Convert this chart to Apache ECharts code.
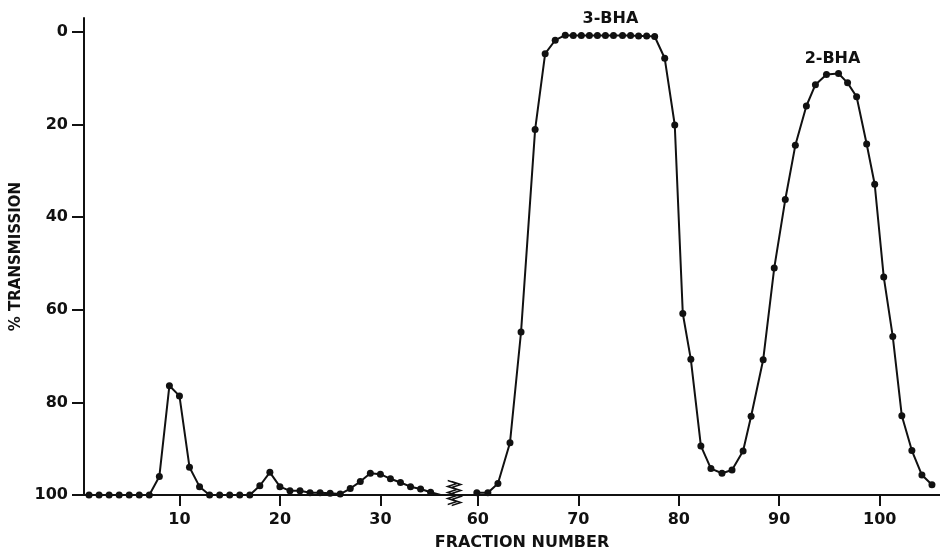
<!DOCTYPE html>
<html>
<head>
<meta charset="utf-8">
<title>Fraction transmission</title>
<script src="https://cdn.jsdelivr.net/npm/echarts@6.0.0/dist/echarts.min.js"></script>
<style>
  html, body { margin: 0; padding: 0; background: #fff; }
  #chart { width: 940px; height: 553px; }
</style>
</head>
<body>
<div id="chart"></div>
<script>
// fractions before the axis break
const preFraction = [1, 2, 3, 4, 5, 6, 7, 8, 9, 10, 11, 12, 13, 14, 15, 16, 17, 18,
  19, 20, 21, 22, 23, 24, 25, 26, 27, 28, 29, 30, 31, 32, 33, 34, 35, 36]
const preTransmission = [100, 100, 100, 100, 100, 100, 100, 96.0, 76.4, 78.6, 94.0, 98.2,
  100, 100, 100, 100, 100, 98.0, 95.1, 98.2, 99.1, 99.1, 99.5, 99.5, 99.6, 99.8,
  98.6, 97.1, 95.3, 95.5, 96.5, 97.3, 98.2, 98.7, 99.4, 100]

// fractions after the break (3-BHA and 2-BHA peaks)
const postFraction = [59.9, 61.0, 62.0, 63.2, 64.3, 65.7, 66.7, 67.7, 68.7, 69.5, 70.3,
  71.1, 71.9, 72.7, 73.5, 74.4, 75.2, 76.0, 76.8, 77.6, 78.6, 79.6, 80.4, 81.2, 82.2,
  83.2, 84.3, 85.3, 86.4, 87.2, 88.4, 89.5, 90.6, 91.6, 92.7, 93.6, 94.7, 95.9, 96.8,
  97.7, 98.7, 99.5, 100.4, 101.3, 102.2, 103.2, 104.2, 105.2]
const postTransmission = [99.5, 99.5, 97.5, 88.7, 64.8, 21.1, 4.7, 1.8, 0.7, 0.8, 0.8,
  0.8, 0.8, 0.8, 0.8, 0.8, 0.8, 0.9, 0.9, 1.0, 5.7, 20.1, 60.8, 70.7, 89.4,
  94.3, 95.3, 94.6, 90.5, 83.0, 70.8, 51.0, 36.2, 24.5, 16.0, 11.4, 9.2, 9.0, 11.0,
  14.0, 24.2, 32.9, 52.9, 65.8, 82.9, 90.4, 95.7, 97.8]

const xTicks = [10, 20, 30, 60, 70, 80, 90, 100]
const yTicks = [0, 20, 40, 60, 80, 100]
const axisBreak = { start: 37, end: 58 }

const peakNames = ['3-BHA', '2-BHA']
const peakFraction = [73.2, 95.3]
const peakTransmission = [0.7, 9.0]

const ink = '#111'
const font = 'DejaVu Sans'
const zigzag = 'path://M0,0 L9,3 L0,6 L9,9 L0,12 L9,15 L0,18 L9,21 L0,24 M4,1 L13,4 L4,7 L13,10 L4,13 L13,16 L4,19 L13,22 L4,25'

function pairs (xs, ys) {
  return xs.map((x, i) => [x, ys[i]])
}

const preData = pairs(preFraction, preTransmission).map((p, i, arr) =>
  i === arr.length - 1 ? { value: p, symbol: 'none' } : p)

const lineStyle = { color: ink, width: 2 }
const itemStyle = { color: ink }
const labelFont = { color: ink, fontWeight: 'bold', fontSize: 16, fontFamily: font }

let myChart = echarts.init(document.getElementById('chart'), null, { renderer: 'canvas' })
myChart.setOption({
  animation: false,
  backgroundColor: '#fff',
  textStyle: { fontFamily: font },
  grid: { left: 84, right: 0, top: 18, bottom: 58, containLabel: false, outerBoundsMode: 'none' },
  xAxis: [
    {
      type: 'value',
      position: 'bottom',
      min: 0.5,
      max: 106,
      breaks: [{ start: axisBreak.start, end: axisBreak.end, gap: 0.7 }],
      breakArea: { show: false },
      name: 'FRACTION NUMBER',
      nameLocation: 'middle',
      nameGap: 40,
      nameTextStyle: Object.assign({ padding: [0, 0, 0, 20] }, labelFont),
      axisLine: { show: false, onZero: false },
      axisTick: { show: true, length: 11, customValues: xTicks, lineStyle: { color: ink, width: 2 } },
      axisLabel: Object.assign({ customValues: xTicks, margin: 17 }, labelFont),
      splitLine: { show: false }
    },
    {
      // unbroken base line drawn under the break marker
      type: 'value',
      position: 'bottom',
      min: 0,
      max: 1,
      axisLine: { show: true, onZero: false, lineStyle: { color: ink, width: 2 } },
      axisTick: { show: false },
      axisLabel: { show: false },
      splitLine: { show: false }
    }
  ],
  yAxis: {
    type: 'value',
    inverse: true,
    min: -3,
    max: 100,
    name: '% TRANSMISSION',
    nameLocation: 'middle',
    nameRotate: 90,
    nameGap: 57,
    nameTextStyle: Object.assign({}, labelFont, { fontSize: 15 }),
    axisLine: { show: true, onZero: false, lineStyle: { color: ink, width: 2 } },
    axisTick: { show: true, length: 12, customValues: yTicks, lineStyle: { color: ink, width: 2 } },
    axisLabel: Object.assign({ customValues: yTicks, margin: 16 }, labelFont),
    splitLine: { show: false }
  },
  series: [
    {
      name: 'before break',
      type: 'line',
      data: preData,
      symbol: 'circle',
      symbolSize: 7,
      lineStyle: lineStyle,
      itemStyle: itemStyle
    },
    {
      name: 'after break',
      type: 'line',
      data: pairs(postFraction, postTransmission),
      symbol: 'circle',
      symbolSize: 7,
      lineStyle: lineStyle,
      itemStyle: itemStyle,
      markPoint: {
        silent: true,
        data: [
          {
            // break marker on the x axis
            coord: [(axisBreak.start + axisBreak.end) / 2, 100],
            symbol: zigzag,
            symbolSize: [13, 25],
            symbolOffset: [0, -2],
            itemStyle: { color: 'none', borderColor: ink, borderWidth: 1.2 },
            label: { show: false }
          }
        ].concat(peakNames.map((n, i) => ({
          name: n,
          coord: [peakFraction[i], peakTransmission[i]],
          symbol: 'circle',
          symbolSize: 1,
          itemStyle: { color: 'transparent' },
          label: Object.assign({
            show: true,
            formatter: n,
            position: 'top',
            distance: i === 0 ? 8 : 6
          }, labelFont)
        })))
      }
    }
  ]
})
</script>
</body>
</html>
